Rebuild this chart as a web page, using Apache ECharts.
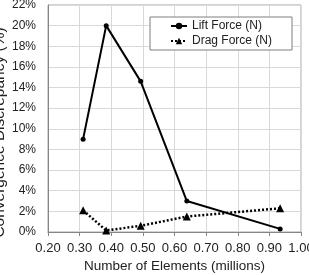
<!DOCTYPE html>
<html>
<head>
<meta charset="utf-8">
<script src="https://cdn.jsdelivr.net/npm/echarts@6/dist/echarts.min.js"></script>
<style>
  html, body { margin: 0; padding: 0; background: #fff; }
  #chart { width: 309px; height: 275px; }
</style>
</head>
<body>
<div id="chart"></div>
<script>
// elements in millions
const elements = [0.311, 0.384, 0.493, 0.639, 0.934]
const liftForce = [9.0, 20.0, 14.6, 3.0, 0.3]
const dragForce = [2.1, 0.15, 0.6, 1.5, 2.3]

const pairs = (xs, ys) => xs.map((x, i) => [x, ys[i]])

const chart = echarts.init(document.getElementById('chart'))
chart.setOption({
  animation: false,
  textStyle: { fontFamily: 'Liberation Sans' },
  grid: {
    left: 48,
    right: 8,
    top: 5,
    bottom: 43,
    containLabel: false,
    outerBoundsMode: 'none',
    show: true,
    borderColor: '#a6a6a6',
    borderWidth: 1
  },
  legend: {
    orient: 'vertical',
    left: 150,
    top: 17,
    width: 140,
    padding: [3, 20, 3, 20],
    itemGap: 3,
    itemWidth: 16,
    itemHeight: 8,
    borderColor: '#7f7f7f',
    borderWidth: 1,
    backgroundColor: '#fff',
    textStyle: { fontSize: 12, color: '#222', fontFamily: 'Liberation Sans' },
    data: ['Lift Force (N)', 'Drag Force (N)']
  },
  xAxis: {
    type: 'value',
    min: 0.2,
    max: 1.0,
    interval: 0.1,
    name: 'Number of Elements (millions)',
    nameLocation: 'middle',
    nameGap: 27,
    nameMoveOverlap: false,
    nameTextStyle: { fontSize: 13.5, color: '#222' },
    axisLine: { lineStyle: { color: '#868686' } },
    axisTick: { show: true, length: 4, lineStyle: { color: '#868686' } },
    axisLabel: {
      fontSize: 13,
      color: '#222',
      margin: 10,
      hideOverlap: false,
      formatter: v => v.toFixed(2)
    },
    splitLine: { show: true, lineStyle: { color: '#d9d9d9' } }
  },
  yAxis: {
    type: 'value',
    min: 0,
    max: 22,
    interval: 2,
    name: 'Convergence Discrepancy (%)',
    nameLocation: 'middle',
    nameGap: 40,
    nameMoveOverlap: false,
    nameTextStyle: { fontSize: 15.5, color: '#222', padding: [0, 28, 0, 0] },
    axisLine: { show: true, lineStyle: { color: '#868686' } },
    axisTick: { show: false },
    axisLabel: { fontSize: 12, color: '#222', margin: 12, formatter: '{value}%' },
    splitLine: { show: true, lineStyle: { color: '#d9d9d9' } }
  },
  series: [
    {
      name: 'Lift Force (N)',
      type: 'line',
      data: pairs(elements, liftForce),
      symbol: 'circle',
      symbolSize: 5,
      lineStyle: { color: '#000', width: 2 },
      itemStyle: { color: '#000' }
    },
    {
      name: 'Drag Force (N)',
      type: 'line',
      data: pairs(elements, dragForce),
      symbol: 'triangle',
      symbolSize: 8,
      lineStyle: { color: '#000', width: 2.5, type: [2, 2] },
      itemStyle: { color: '#000' }
    }
  ]
})
</script>
</body>
</html>
